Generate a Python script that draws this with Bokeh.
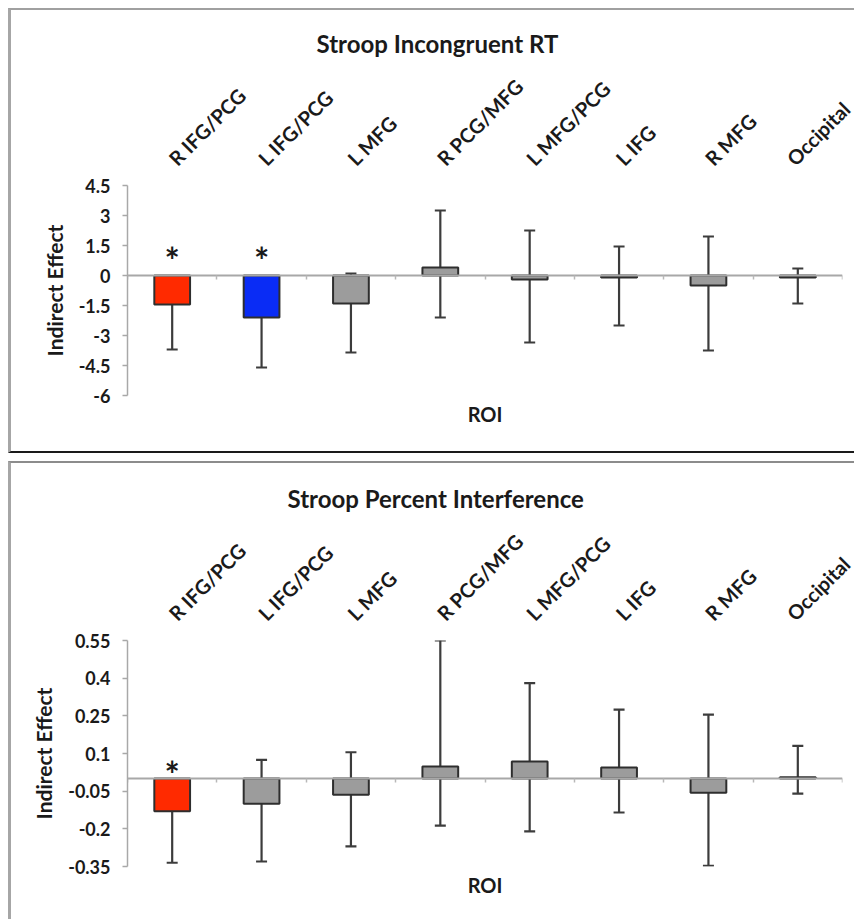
from math import pi
from bokeh.plotting import figure
from bokeh.models import (Range1d, FixedTicker, LinearAxis, ColumnDataSource,
                          Whisker, TeeHead)
from bokeh.layouts import column
from bokeh.embed import file_html
from bokeh.resources import INLINE
from bokeh.core.properties import value

# ---------------- data ----------------
rois = ["R IFG/PCG", "L IFG/PCG", "L MFG", "R PCG/MFG", "L MFG/PCG", "L IFG", "R MFG", "Occipital"]

# Panel 1: Stroop Incongruent RT
rt_title = "Stroop Incongruent RT"
rt_effect = [-1.45, -2.1, -1.4, 0.4, -0.2, -0.1, -0.5, -0.1]
rt_ci_low = [-3.7, -4.6, -3.85, -2.1, -3.35, -2.5, -3.75, -1.4]
rt_ci_high = [-0.05, -0.4, 0.1, 3.25, 2.25, 1.45, 1.95, 0.35]
rt_group = ["right", "left", "none", "none", "none", "none", "none", "none"]
rt_sig = [True, True, False, False, False, False, False, False]
rt_star_y = 0.8
rt_tick_labels = ["-6", "-4.5", "-3", "-1.5", "0", "1.5", "3", "4.5"]

# Panel 2: Stroop Percent Interference
pi_title = "Stroop Percent Interference"
pi_effect = [-0.13, -0.10, -0.064, 0.048, 0.068, 0.044, -0.056, 0.005]
pi_ci_low = [-0.335, -0.33, -0.27, -0.187, -0.21, -0.135, -0.347, -0.06]
pi_ci_high = [-0.01, 0.075, 0.105, 0.55, 0.38, 0.275, 0.255, 0.13]
pi_group = ["right", "none", "none", "none", "none", "none", "none", "none"]
pi_sig = [True, False, False, False, False, False, False, False]
pi_star_y = 0.02
pi_tick_labels = ["-0.35", "-0.2", "-0.05", "0.1", "0.25", "0.4", "0.55"]

x_title = "ROI"
y_title = "Indirect Effect"

# ---------------- style ----------------
FONT = "Lato"
TXT = "#1a1a1a"
COLORS = {"right": "#ff2a00", "left": "#0a2cf5", "none": "#9c9c9c"}


def make_panel(title, effect, lo, hi, group, sig, star_y, tick_labels,
               width, height, mb_left, mb_right, mb_top, mb_bottom, styles,
               title_offset):
    n = len(rois)
    xs = [i + 0.5 for i in range(n)]
    yticks = [float(t) for t in tick_labels]
    p = figure(width=width, height=height,
               x_range=Range1d(0, n), y_range=Range1d(yticks[0], yticks[-1]),
               x_axis_location=None, y_axis_location="left",
               output_backend="svg", toolbar_location=None,
               min_border_left=mb_left, min_border_right=mb_right,
               min_border_top=mb_top, min_border_bottom=mb_bottom)
    p.styles = styles
    p.outline_line_color = None
    p.xgrid.visible = False
    p.ygrid.visible = False

    # title
    p.title.text = title
    p.title.align = "left"
    p.title.offset = title_offset
    p.title.text_font = FONT
    p.title.text_font_size = "24px"
    p.title.text_font_style = "bold"
    p.title.text_color = TXT

    # y axis
    ya = p.yaxis[0]
    ya.ticker = FixedTicker(ticks=yticks)
    ya.major_label_overrides = {v: t for v, t in zip(yticks, tick_labels)}
    ya.axis_line_color = "#a8a8a8"
    ya.axis_line_width = 1.5
    ya.major_tick_line_color = "#a8a8a8"
    ya.major_tick_line_width = 1.5
    ya.major_tick_in = 0
    ya.major_tick_out = 5
    ya.minor_tick_line_color = None
    ya.major_label_text_font = FONT
    ya.major_label_text_font_style = "bold"
    ya.major_label_text_font_size = "18px"
    ya.major_label_text_color = TXT
    ya.major_label_standoff = 12
    ya.axis_label = y_title
    ya.axis_label_text_font = FONT
    ya.axis_label_text_font_style = "bold"
    ya.axis_label_text_font_size = "21px"
    ya.axis_label_text_color = TXT
    ya.axis_label_standoff = 9

    # category labels above
    ca = LinearAxis(ticker=FixedTicker(ticks=xs),
                    major_label_overrides={x: r for x, r in zip(xs, rois)},
                    major_label_orientation=pi / 4,
                    axis_line_color=None, major_tick_line_color=None,
                    minor_tick_line_color=None,
                    major_label_standoff=18,
                    major_label_text_font=FONT,
                    major_label_text_font_style="bold",
                    major_label_text_font_size="20px",
                    major_label_text_color=TXT)
    p.add_layout(ca, "above")

    # ROI axis title below
    ra = LinearAxis(ticker=FixedTicker(ticks=[]), axis_label=x_title,
                    axis_line_color=None, major_tick_line_color=None,
                    minor_tick_line_color=None,
                    axis_label_text_font=FONT,
                    axis_label_text_font_style="bold",
                    axis_label_text_font_size="20px",
                    axis_label_text_color=TXT,
                    axis_label_standoff=6)
    p.add_layout(ra, "below")

    # bars
    src = ColumnDataSource(dict(x=xs, effect=effect, lo=lo, hi=hi,
                                color=[COLORS[g] for g in group]))
    p.vbar(x="x", top="effect", bottom=0, width=0.4, source=src,
           fill_color="color", line_color="#2e2e2e", line_width=2)

    # zero-line axis with category boundary ticks (minor ticks -> no labels)
    za = LinearAxis(fixed_location=0,
                    ticker=FixedTicker(ticks=[], minor_ticks=list(range(n + 1))),
                    axis_line_color="#a8a8a8", axis_line_width=2,
                    major_tick_line_color=None,
                    minor_tick_line_color="#b8b8b8", minor_tick_line_width=1.5,
                    minor_tick_in=0, minor_tick_out=4)
    p.add_layout(za, "below")

    # error bars
    w = Whisker(source=src, base="x", upper="hi", lower="lo",
                line_color="#3c3c3c", line_width=2.2,
                upper_head=TeeHead(size=11, line_color="#3c3c3c", line_width=2.2),
                lower_head=TeeHead(size=11, line_color="#3c3c3c", line_width=2.2))
    p.add_layout(w)

    # significance stars
    sx = [x for x, s in zip(xs, sig) if s]
    ssrc = ColumnDataSource(dict(x=sx, y=[star_y] * len(sx), t=["*"] * len(sx)))
    p.text(x="x", y="y", text="t", source=ssrc, text_font=value(FONT),
           text_font_size="36px", text_font_style="bold",
           text_align="center", text_baseline="middle", text_color=TXT)
    return p


p1 = make_panel(rt_title, rt_effect, rt_ci_low, rt_ci_high, rt_group, rt_sig,
                rt_star_y, rt_tick_labels,
                width=846, height=445, mb_left=106, mb_right=15, mb_top=175, mb_bottom=60,
                styles={"border-top": "2px solid #a0a0a0",
                        "border-left": "3px solid #a6a6a6",
                        "border-bottom": "2px solid #1a1a1a"},
                title_offset=189)
p2 = make_panel(pi_title, pi_effect, pi_ci_low, pi_ci_high, pi_group, pi_sig,
                pi_star_y, pi_tick_labels,
                width=846, height=458, mb_left=116, mb_right=15, mb_top=177, mb_bottom=55,
                styles={"border-top": "2px solid #8c8c8c",
                        "border-left": "3px solid #a6a6a6"},
                title_offset=160)

layout = column(p1, p2, spacing=8, margin=(8, 0, 0, 8))
open("out.html", "w").write(file_html(layout, INLINE))
